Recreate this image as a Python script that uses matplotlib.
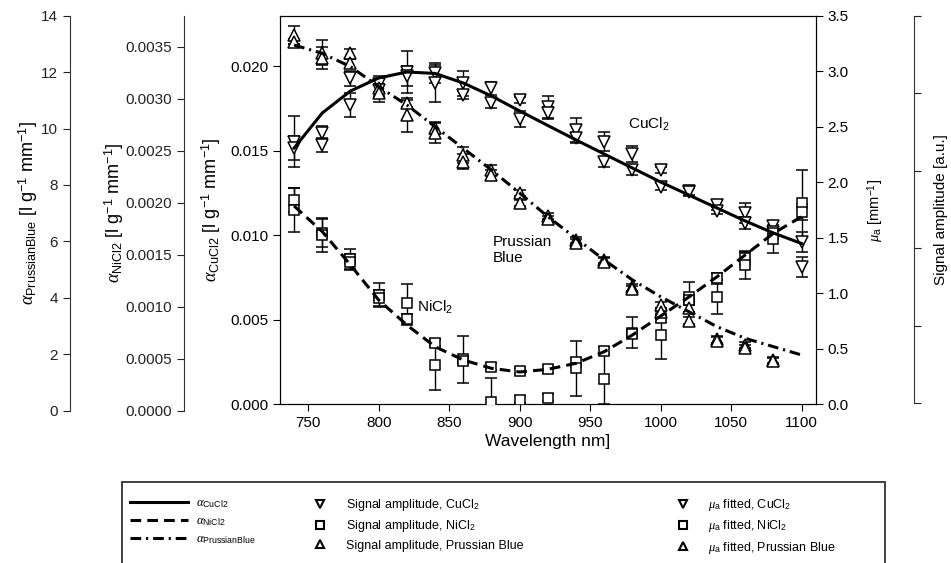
import numpy as np
import matplotlib
matplotlib.use("Agg")
import matplotlib.pyplot as plt
from matplotlib.lines import Line2D
from matplotlib.patches import Rectangle

plt.rcParams['font.family'] = ['Liberation Sans', 'DejaVu Sans']
plt.rcParams['mathtext.fontset'] = 'custom'
plt.rcParams['mathtext.rm'] = 'Liberation Sans'
plt.rcParams['mathtext.it'] = 'Liberation Serif:italic'
plt.rcParams['mathtext.bf'] = 'Liberation Sans:bold'

# wavelengths [nm]
wl = [740, 760, 780, 800, 820, 840, 860, 880, 900, 920,
      940, 960, 980, 1000, 1020, 1040, 1060, 1080, 1100]
wl_pb = wl[:-1]

# values in mu_a units [mm^-1]
cu_sig = [2.365, 2.441, 2.936, 2.885, 2.996, 2.981, 2.891, 2.846, 2.741, 2.681,
          2.471, 2.365, 2.254, 2.110, 1.924, 1.795, 1.720, 1.606, 1.465]
cu_sig_err = [0.23, 0.065, 0.065, 0.07, 0.19, 0.09, 0.11, 0.06, 0.03, 0.10,
              0.105, 0.085, 0.075, 0.03, 0.035, 0.045, 0.09, 0.045, 0.09]
cu_fit = [2.306, 2.336, 2.696, 2.831, 2.957, 2.891, 2.786, 2.711, 2.570, 2.621,
          2.396, 2.185, 2.110, 1.960, 1.909, 1.744, 1.630, 1.552, 1.239]
cu_fit_err = [0.11, 0.065, 0.11, 0.055, 0.09, 0.165, 0.04, 0.045, 0.07, 0.055,
              0.045, 0.045, 0.045, 0.03, 0.035, 0.03, 0.055, 0.045, 0.09]

ni_sig = [1.840, 1.546, 1.306, 0.984, 0.915, 0.555, 0.405, 0.339, 0.300, 0.315,
          0.384, 0.483, 0.645, 0.775, 0.969, 1.135, 1.315, 1.540, 1.810]
ni_sig_err = [0.11, 0.125, 0.09, 0.11, 0.17, 0.03, 0.21, 0.03, 0.03, 0.03,
              0.03, 0.03, 0.14, 0.03, 0.135, 0.05, 0.06, 0.05, 0.30]
ni_fit = [1.750, 1.525, 1.284, 0.955, 0.766, 0.354, 0.393, 0.023, 0.043, 0.059,
          0.324, 0.225, 0.633, 0.624, 0.939, 0.969, 1.255, 1.486, 1.732]
ni_fit_err = [0.20, 0.15, 0.07, 0.07, 0.05, 0.225, 0.03, 0.21, 0.03, 0.03,
              0.25, 0.225, 0.03, 0.22, 0.03, 0.155, 0.125, 0.125, 0.07]

pb_sig = [3.326, 3.167, 3.161, 2.849, 2.711, 2.486, 2.245, 2.110, 1.903, 1.696,
          1.480, 1.300, 1.054, 0.894, 0.865, 0.585, 0.534, 0.399]
pb_sig_err = [0.08, 0.11, 0.04, 0.08, 0.03, 0.055, 0.07, 0.045, 0.03, 0.03,
              0.03, 0.03, 0.03, 0.03, 0.03, 0.03, 0.03, 0.03]
pb_fit = [3.266, 3.116, 3.071, 2.804, 2.606, 2.441, 2.185, 2.065, 1.813, 1.669,
          1.456, 1.284, 1.036, 0.834, 0.753, 0.573, 0.504, 0.390]
pb_fit_err = [0.02, 0.10, 0.04, 0.08, 0.15, 0.09, 0.07, 0.045, 0.03, 0.03,
              0.03, 0.03, 0.03, 0.03, 0.03, 0.03, 0.03, 0.03]

# fitted absorption curves
cu_curve = [2.308, 2.624, 2.822, 2.939, 2.993, 2.980, 2.894, 2.777, 2.642, 2.511,
            2.381, 2.254, 2.128, 2.002, 1.885, 1.768, 1.651, 1.543, 1.448]
ni_curve = [1.786, 1.555, 1.255, 0.939, 0.714, 0.519, 0.399, 0.324, 0.291, 0.315,
            0.369, 0.474, 0.624, 0.795, 0.966, 1.149, 1.345, 1.540, 1.690]
pb_curve = [3.236, 3.161, 3.041, 2.861, 2.696, 2.500, 2.306, 2.110, 1.903, 1.690,
            1.495, 1.300, 1.120, 0.969, 0.834, 0.699, 0.594, 0.519, 0.444]

W, H = 951, 563
fig = plt.figure(figsize=(W / 100, H / 100), dpi=100)

def fx(px):
    return px / W

def fy(py):
    return (H - py) / H

# main axes (alpha CuCl2 on the left)
ax = fig.add_axes([fx(280), fy(404.3), fx(815.7) - fx(280), fy(15.7) - fy(404.3)])
ax.set_xlim(730, 1110)
ax.set_ylim(0, 0.023)
ax.set_xticks([750, 800, 850, 900, 950, 1000, 1050, 1100])
ax.set_yticks([0, 0.005, 0.010, 0.015, 0.020])
ax.set_yticklabels(['%.3f' % v for v in [0, 0.005, 0.010, 0.015, 0.020]])
ax.tick_params(direction='out', length=5, labelsize=11)
ax.set_xlabel('Wavelength nm]', fontsize=12.5, labelpad=3)
ax.set_ylabel(r'$\alpha_{\mathrm{CuCl2}}$ [l g$^{-1}$ mm$^{-1}$]', fontsize=13, labelpad=5)

axr = ax.twinx()
axr.set_ylim(0, 3.5)
axr.set_yticks(np.arange(0, 3.51, 0.5))
axr.set_yticklabels(['%.1f' % v for v in np.arange(0, 3.51, 0.5)])
axr.tick_params(direction='out', length=5, labelsize=11)
axr.set_ylabel(r'$\mu_{\mathrm{a}}$ [mm$^{-1}$]', fontsize=10.5, labelpad=12)

ekw = dict(mfc='white', mec='black', ecolor='black', elinewidth=1,
           capsize=4.5, capthick=1, ms=8, mew=1.1, ls='none', zorder=3)
axr.errorbar(wl, cu_sig, yerr=cu_sig_err, fmt='v', **ekw)
axr.errorbar(wl, cu_fit, yerr=cu_fit_err, fmt='v', **ekw)
axr.errorbar(wl, ni_sig, yerr=ni_sig_err, fmt='s', **dict(ekw, ms=7))
axr.errorbar(wl, ni_fit, yerr=ni_fit_err, fmt='s', **dict(ekw, ms=7))
axr.errorbar(wl_pb, pb_sig, yerr=pb_sig_err, fmt='^', **ekw)
axr.errorbar(wl_pb, pb_fit, yerr=pb_fit_err, fmt='^', **ekw)

axr.plot(wl, cu_curve, color='black', lw=2.2, zorder=4)
axr.plot(wl, ni_curve, color='black', lw=2.2, dashes=(3.5, 2), zorder=4)
axr.plot(wl, pb_curve, color='black', lw=2.2, dashes=(3.5, 1.6, 0.7, 1.6), zorder=4)

axr.text(977, 2.52, r'CuCl$_2$', fontsize=11, va='center')
axr.text(881, 1.39, 'Prussian\nBlue', fontsize=11, va='center', linespacing=1.15)
axr.text(827, 0.87, r'NiCl$_2$', fontsize=11, va='center')

# extra side axes
def side_axis(xpx, top, bottom, lim, ticks, labels, label, pad, size, side='left'):
    a = fig.add_axes([fx(xpx), fy(bottom), 0.001, fy(top) - fy(bottom)])
    a.patch.set_visible(False)
    for s in ['top', 'bottom', 'left', 'right']:
        a.spines[s].set_visible(s == side)
    a.spines[side].set_color('#333333')
    a.set_xticks([])
    a.set_ylim(*lim)
    a.set_yticks(ticks)
    a.set_yticklabels(labels)
    a.tick_params(direction='out', length=5, labelsize=11, colors='#222222')
    if side == 'right':
        a.yaxis.tick_right()
        a.yaxis.set_label_position('right')
    a.set_ylabel(label, fontsize=size, labelpad=pad)
    return a

pb_ticks = [0, 2, 4, 6, 8, 10, 12, 14]
side_axis(70, 15.7, 410.7, (0, 14), pb_ticks, [str(t) for t in pb_ticks],
          r'$\alpha_{\mathrm{PrussianBlue}}$ [l g$^{-1}$ mm$^{-1}$]', 0.5, 13)
ni_ticks = [0, 0.0005, 0.0010, 0.0015, 0.0020, 0.0025, 0.0030, 0.0035]
side_axis(184, 15.7, 410.7, (0, 0.0038), ni_ticks, ['%.4f' % t for t in ni_ticks],
          r'$\alpha_{\mathrm{NiCl2}}$ [l g$^{-1}$ mm$^{-1}$]', 0, 13)
side_axis(913, 15.7, 403, (0, 5), [0, 1, 2, 3, 4, 5], [], 'Signal amplitude [a.u.]',
          6, 11, side='right')

# legend
fig.add_artist(Rectangle((fx(122), -0.1), fx(885) - fx(122), fy(482) + 0.1,
                         transform=fig.transFigure, fill=False, lw=1.3, ec='#333333'))

lkw = dict(frameon=False, loc='upper left', borderpad=0, borderaxespad=0,
           fontsize=9, labelspacing=0.42)
h1 = [Line2D([], [], color='black', lw=2.2),
      Line2D([], [], color='black', lw=2.2, dashes=(3.5, 2)),
      Line2D([], [], color='black', lw=2.2, dashes=(3.5, 1.6, 0.7, 1.6))]
fig.legend(h1, [r'$\alpha_{\mathrm{CuCl2}}$', r'$\alpha_{\mathrm{NiCl2}}$',
                r'$\alpha_{\mathrm{PrussianBlue}}$'],
           bbox_to_anchor=(fx(130), fy(497)), handlelength=4.6, handletextpad=0.7, **lkw)
mk = dict(color='black', ls='none', mfc='white', mec='black', mew=1.5, ms=6)
h2 = [Line2D([], [], marker='v', **mk), Line2D([], [], marker='s', **mk),
      Line2D([], [], marker='^', **mk)]
fig.legend(h2, [r'Signal amplitude, CuCl$_2$', r'Signal amplitude, NiCl$_2$',
                'Signal amplitude, Prussian Blue'],
           bbox_to_anchor=(fx(313), fy(497)), handlelength=1.1, handletextpad=1.5, **lkw)
fig.legend(h2, [r'$\mu_{\mathrm{a}}$ fitted, CuCl$_2$', r'$\mu_{\mathrm{a}}$ fitted, NiCl$_2$',
                r'$\mu_{\mathrm{a}}$ fitted, Prussian Blue'],
           bbox_to_anchor=(fx(676), fy(497)), handlelength=1.1, handletextpad=1.5, **lkw)

fig.savefig('out.png', dpi=100)
